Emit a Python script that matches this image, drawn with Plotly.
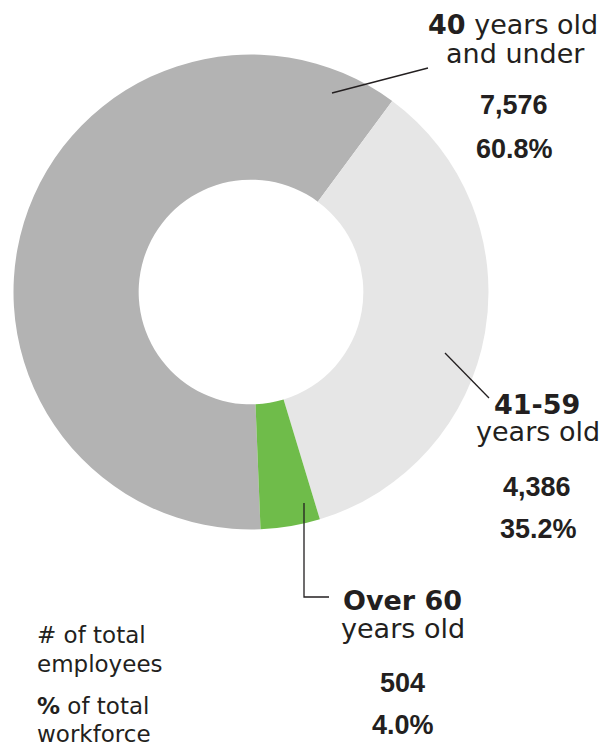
import plotly.graph_objects as go

# ---- data ----
categories = ["40 years old and under", "41-59 years old", "Over 60 years old"]
label_bold = ["40", "41-59", "Over 60"]
employees = [7576, 4386, 504]
colors = ["#b3b3b3", "#e6e6e6", "#6fbc4a"]

W, H = 614, 747
TXT = "#231f20"
FONT = "DejaVu Sans"
NUMFONT = "Liberation Sans"
OFF = 8  # page body margin compensation

total = sum(employees)
pcts = [f"{v / total * 100:.1f}%" for v in employees]
counts = [f"{v:,}" for v in employees]

fig = go.Figure()
cx, cy, R = 251 - OFF, 292 - OFF, 237.5
fig.add_trace(go.Pie(
    labels=categories, values=employees, sort=False, direction="clockwise",
    rotation=177.7, hole=0.473, textinfo="none", hoverinfo="label+value+percent",
    marker=dict(colors=colors, line=dict(width=0)),
    domain=dict(x=[(cx - R) / W, (cx + R) / W], y=[(H - cy - R) / H, (H - cy + R) / H]),
    showlegend=False,
))


def px(x):
    return (x - OFF) / W


def py(y):
    return 1 - (y - OFF) / H


annotations = []


def txt(text, x, baseline, size, bold=False, anchor="center", family=FONT):
    t = f"<b>{text}</b>" if bold else text
    annotations.append(dict(
        text=t, x=px(x), y=py(baseline - 0.35 * size + 1), xref="paper", yref="paper",
        xanchor=anchor, yanchor="middle", showarrow=False,
        font=dict(family=family, size=size, color=TXT),
    ))


LS, NS, GS = 27, 27, 23
# 40 and under
txt(f"<b>{label_bold[0]}</b> years old", 513, 33, LS)
txt("and under", 515, 62, LS)
txt(counts[0], 514, 113, NS, True, family=NUMFONT)
txt(pcts[0], 514, 157, NS, True, family=NUMFONT)
# 41-59
txt(label_bold[1], 537, 413, LS, True)
txt("years old", 538, 440, LS)
txt(counts[1], 537, 495, NS, True, family=NUMFONT)
txt(pcts[1], 538, 537, NS, True, family=NUMFONT)
# Over 60
txt(label_bold[2], 403, 609, LS, True)
txt("years old", 403, 637, LS)
txt(counts[2], 403, 691, NS, True, family=NUMFONT)
txt(pcts[2], 403, 733, NS, True, family=NUMFONT)
# key
txt("# of total", 35, 642, GS, anchor="left")
txt("employees", 35, 671, GS, anchor="left")
txt("<b>%</b> of total", 35, 713, GS, anchor="left")
txt("workforce", 35, 741, GS, anchor="left")

line = dict(color=TXT, width=1.3)
shapes = [
    dict(type="line", xref="paper", yref="paper", x0=px(428), y0=py(68), x1=px(332), y1=py(93), line=line),
    dict(type="line", xref="paper", yref="paper", x0=px(445), y0=py(353), x1=px(489), y1=py(398), line=line),
    dict(type="path", xref="paper", yref="paper",
         path=f"M {px(304)} {py(503)} L {px(304)} {py(597)} L {px(329)} {py(597)}", line=line),
]

fig.update_layout(
    width=W, height=H, margin=dict(l=0, r=0, t=0, b=0),
    paper_bgcolor="white", plot_bgcolor="white",
    annotations=annotations, shapes=shapes,
)
fig.write_html("out.html")
